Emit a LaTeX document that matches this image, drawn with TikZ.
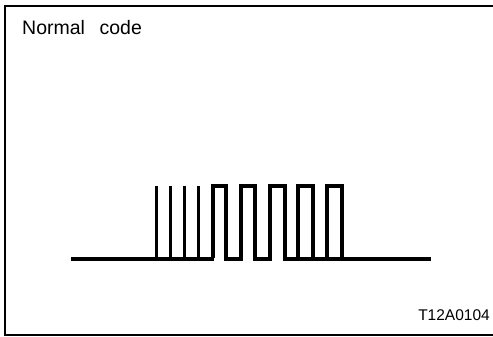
\documentclass[tikz,border=0pt]{standalone}
\usepackage{fontspec}
\setmainfont{Liberation Sans}
\begin{document}
\begin{tikzpicture}[x=1pt,y=-1pt,
  frameline/.style={line width=2pt},
  wave/.style={line width=3.3pt,line join=miter},
  spike/.style={line width=3pt},
  base/.style={line width=3.6pt},
  lbl/.style={inner sep=0pt,anchor=base west}]
\useasboundingbox (0,0) rectangle (493,337);
% frame
\draw[frameline] (493,6) -- (5,6) -- (5,335) -- (493,335);
% title
\node[lbl,font=\fontsize{19.5}{22}\selectfont] (title) at (22,35) {Normal\hspace{0.75em}code};
\node[inner sep=0pt,anchor=base east,font=\fontsize{15.5}{18}\selectfont] (ref) at (490,320) {T12A0104};
% baseline
\draw[base] (71,259) -- (214,259);
\draw[base] (284,259) -- (431,259);
% spikes
\foreach \sx in {156,170,184,198} \draw[spike] (\sx,259) -- (\sx,186);
% square wave
\draw[wave] (213,258) -- (213,186) -- (226,186) -- (226,259) -- (241,259) -- (241,186)
  -- (255,186) -- (255,259) -- (270,259) -- (270,186) -- (285,186) -- (285,259)
  -- (298,259) -- (298,186) -- (313,186) -- (313,259) -- (327,259) -- (327,186)
  -- (342,186) -- (342,259);
\end{tikzpicture}
\end{document}
